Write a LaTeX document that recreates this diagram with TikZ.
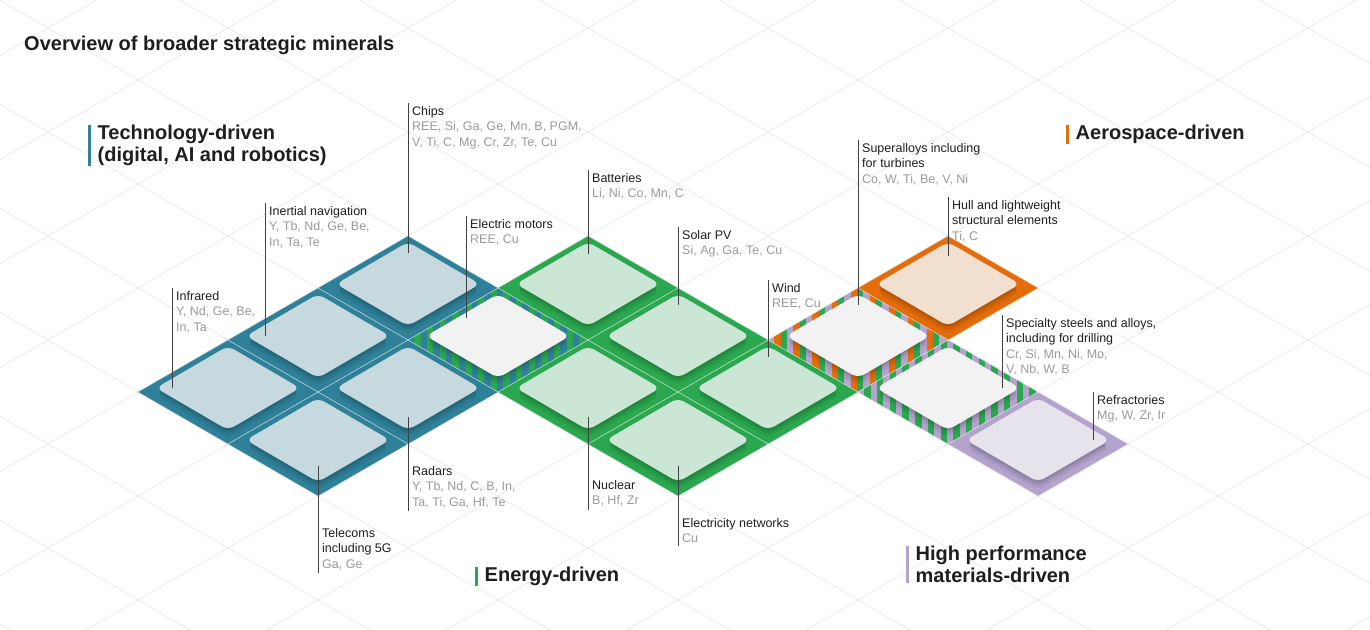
\documentclass[tikz,border=0pt]{standalone}
\usepackage{fontspec}
\setmainfont{Liberation Sans}
\usepackage{xcolor}
\usetikzlibrary{calc}
\usetikzlibrary{positioning,shapes.geometric}

\definecolor{techc}{HTML}{2F8199}
\definecolor{techt}{HTML}{C6D9DF}
\definecolor{enerc}{HTML}{2BA84F}
\definecolor{enert}{HTML}{CBE6D4}
\definecolor{aeroc}{HTML}{E46C0A}
\definecolor{aerot}{HTML}{F1DFD0}
\definecolor{hpmc}{HTML}{B3A3CD}
\definecolor{hpmt}{HTML}{E7E3EC}
\definecolor{mixt}{HTML}{F2F2F2}
\definecolor{gridc}{HTML}{ECECEC}
\definecolor{elem}{HTML}{9A9A9A}
\definecolor{ink}{HTML}{1E1E1E}

% one cell of the grid, given by its centre
\newcommand{\dia}[2]{({#1-90},#2) -- (#1,{#2-52}) -- ({#1+90},#2) -- (#1,{#2+52}) -- cycle}

\begin{document}
\begin{tikzpicture}[
x=1pt, y=-1pt,
GridLine/.style={draw=gridc, line width=.9pt},
CellLine/.style={draw=white, draw opacity=.35, line width=.6pt},
Tile/.style={shape=diamond, minimum width=144pt, minimum height=84pt, inner sep=0pt, outer sep=0pt,
  rounded corners=7pt, fill=#1,
  preaction={fill=black, fill opacity=.05, transform canvas={yshift=-8pt}},
  preaction={fill=black, fill opacity=.07, transform canvas={yshift=-5pt}},
  preaction={fill=black, fill opacity=.09, transform canvas={yshift=-2.5pt}}},
Leader/.style={draw=black!75, line width=.8pt},
Lbl/.style={anchor=north west, align=left, inner xsep=4pt, inner ysep=3pt,
  font=\fontsize{12.5}{15.5}\selectfont, text=ink},
Heading/.style={anchor=north west, align=left, inner xsep=8.5pt, inner ysep=0pt,
  font=\bfseries\fontsize{20}{22}\selectfont, text=ink},
Bar/.style={draw=#1, line width=3pt}
]
\useasboundingbox (0,0) rectangle (1370,629);
\clip (0,0) rectangle (1370,629);

% background grid
\foreach \k in {-5,...,10}
  \draw[GridLine] ({138+90*(\k-5)},{392+52*(\k+5)}) -- ({138+90*(\k+12)},{392+52*(\k-12)});
\foreach \k in {-4,...,11}
  \draw[GridLine] ({138+90*(\k-6)},{392+52*(-6-\k)}) -- ({138+90*(\k+11)},{392+52*(11-\k)});

% coloured cells
\foreach \cx/\cy in {228/392, 318/340, 408/288, 318/444, 408/392}
  \fill[techc] \dia{\cx}{\cy};
\foreach \cx/\cy in {588/288, 678/340, 588/392, 678/444, 768/392}
  \fill[enerc] \dia{\cx}{\cy};
\fill[aeroc] \dia{948}{288};
\fill[hpmc] \dia{1038}{444};

% striped cells
\begin{scope}
\clip \dia{498}{340};
\foreach \i in {0,...,28}{
  \pgfmathtruncatemacro\m{mod(\i,2)}
  \ifcase\m \def\sc{techc}\or \def\sc{enerc}\fi
  \fill[\sc] ({408+6.35*\i},288) rectangle ++(6.7,104);
}
\end{scope}
\begin{scope}
\clip \dia{858}{340};
\foreach \i in {0,...,28}{
  \pgfmathtruncatemacro\m{mod(\i,3)}
  \ifcase\m \def\sc{hpmc}\or \def\sc{aeroc}\or \def\sc{enerc}\fi
  \fill[\sc] ({768+6.35*\i},288) rectangle ++(6.7,104);
}
\end{scope}
\begin{scope}
\clip \dia{948}{392};
\foreach \i in {0,...,28}{
  \pgfmathtruncatemacro\m{mod(\i,2)}
  \ifcase\m \def\sc{hpmc}\or \def\sc{enerc}\fi
  \fill[\sc] ({858+6.35*\i},340) rectangle ++(6.7,104);
}
\end{scope}

% faint cell borders
\foreach \cx/\cy in {228/392, 318/340, 408/288, 318/444, 408/392, 498/340,
  588/288, 678/340, 588/392, 678/444, 768/392, 858/340, 948/288, 948/392, 1038/444}
  \draw[CellLine] \dia{\cx}{\cy};

% tiles
\node[Tile=techt] (t-infra) at (228,388) {};
\node[Tile=techt] (t-inert) at (318,336) {};
\node[Tile=techt] (t-chips) at (408,284) {};
\node[Tile=techt] (t-telec) at (318,440) {};
\node[Tile=techt] (t-radar) at (408,388) {};
\node[Tile=mixt] (t-motor) at (498,336) {};
\node[Tile=enert] (t-batt) at (588,284) {};
\node[Tile=enert] (t-solar) at (678,336) {};
\node[Tile=enert] (t-nucl) at (588,388) {};
\node[Tile=enert] (t-netw) at (678,440) {};
\node[Tile=enert] (t-wind) at (768,388) {};
\node[Tile=mixt] (t-super) at (858,336) {};
\node[Tile=aerot] (t-hull) at (948,284) {};
\node[Tile=mixt] (t-steel) at (948,388) {};
\node[Tile=hpmt] (t-refr) at (1038,440) {};

% labels above the tiles
\node[Lbl] (l-infra) at (172,288) {Infrared\\\textcolor{elem}{Y, Nd, Ge, Be,}\\\textcolor{elem}{In, Ta}};
\node[Lbl] (l-inert) at (265,203) {Inertial navigation\\\textcolor{elem}{Y, Tb, Nd, Ge, Be,}\\\textcolor{elem}{In, Ta, Te}};
\node[Lbl] (l-chips) at (408,103) {Chips\\\textcolor{elem}{REE, Si, Ga, Ge, Mn, B, PGM,}\\\textcolor{elem}{V, Ti, C, Mg, Cr, Zr, Te, Cu}};
\node[Lbl] (l-motor) at (466,216) {Electric motors\\\textcolor{elem}{REE, Cu}};
\node[Lbl] (l-batt) at (588,170) {Batteries\\\textcolor{elem}{Li, Ni, Co, Mn, C}};
\node[Lbl] (l-solar) at (678,227) {Solar PV\\\textcolor{elem}{Si, Ag, Ga, Te, Cu}};
\node[Lbl] (l-wind) at (768,280) {Wind\\\textcolor{elem}{REE, Cu}};
\node[Lbl] (l-super) at (858,140) {Superalloys including\\for turbines\\\textcolor{elem}{Co, W, Ti, Be, V, Ni}};
\node[Lbl] (l-hull) at (948,197) {Hull and lightweight\\structural elements\\\textcolor{elem}{Ti, C}};
\node[Lbl] (l-steel) at (1002,315) {Specialty steels and alloys,\\including for drilling\\\textcolor{elem}{Cr, Si, Mn, Ni, Mo,}\\\textcolor{elem}{V, Nb, W, B}};
\node[Lbl] (l-refr) at (1093,392) {Refractories\\\textcolor{elem}{Mg, W, Zr, Ir}};

% labels below the tiles
\node[Lbl] (l-radar) at (408,463) {Radars\\\textcolor{elem}{Y, Tb, Nd, C, B, In,}\\\textcolor{elem}{Ta, Ti, Ga, Hf, Te}};
\node[Lbl] (l-telec) at (318,525) {Telecoms\\including 5G\\\textcolor{elem}{Ga, Ge}};
\node[Lbl] (l-nucl) at (588,477) {Nuclear\\\textcolor{elem}{B, Hf, Zr}};
\node[Lbl] (l-netw) at (678,515) {Electricity networks\\\textcolor{elem}{Cu}};

% leaders
\draw[Leader] (l-infra.north west) -- (l-infra.north west |- t-infra.center);
\draw[Leader] (l-inert.north west) -- (l-inert.north west |- t-inert.center);
\draw[Leader] (l-chips.north west) -- ($(t-chips.north)+(0,11)$);
\draw[Leader] (l-motor.north west) -- ($(l-motor.north west |- t-motor.center)+(0,-18)$);
\draw[Leader] (l-batt.north west) -- ($(t-batt.north)+(0,12)$);
\draw[Leader] (l-solar.north west) -- ($(t-solar.north)+(0,11)$);
\draw[Leader] (l-wind.north west) -- ($(t-wind.north)+(0,11)$);
\draw[Leader] (l-super.north west) -- ($(t-super.north)+(0,11)$);
\draw[Leader] (l-hull.north west) -- ($(t-hull.north)+(0,14)$);
\draw[Leader] (l-steel.north west) -- (l-steel.north west |- t-steel.center);
\draw[Leader] (l-refr.north west) -- (l-refr.north west |- t-refr.center);
\draw[Leader] ($(t-radar.south)+(0,-13)$) -- (l-radar.south west);
\draw[Leader] ($(t-telec.south)+(0,-16)$) -- (l-telec.south west);
\draw[Leader] ($(t-nucl.south)+(0,-13)$) -- (l-nucl.south west);
\draw[Leader] ($(t-netw.south)+(0,-16)$) -- (l-netw.south west);

% headings
\node[Heading] (h-tech) at (89,125) {Technology-driven\\(digital, AI and robotics)};
\draw[Bar=techc] (h-tech.north west) -- (h-tech.south west);
\node[Heading] (h-aero) at (1067,125) {Aerospace-driven};
\draw[Bar=aeroc] (h-aero.north west) -- (h-aero.south west);
\node[Heading] (h-ener) at (476,567) {Energy-driven};
\draw[Bar=enerc] (h-ener.north west) -- (h-ener.south west);
\node[Heading] (h-hpm) at (907,546) {High performance\\materials-driven};
\draw[Bar=hpmc] (h-hpm.north west) -- (h-hpm.south west);

\node[anchor=base west, inner sep=0pt, text=ink, font=\bfseries\fontsize{20}{22}\selectfont]
  (title) at (24,50) {Overview of broader strategic minerals};

\end{tikzpicture}
\end{document}
